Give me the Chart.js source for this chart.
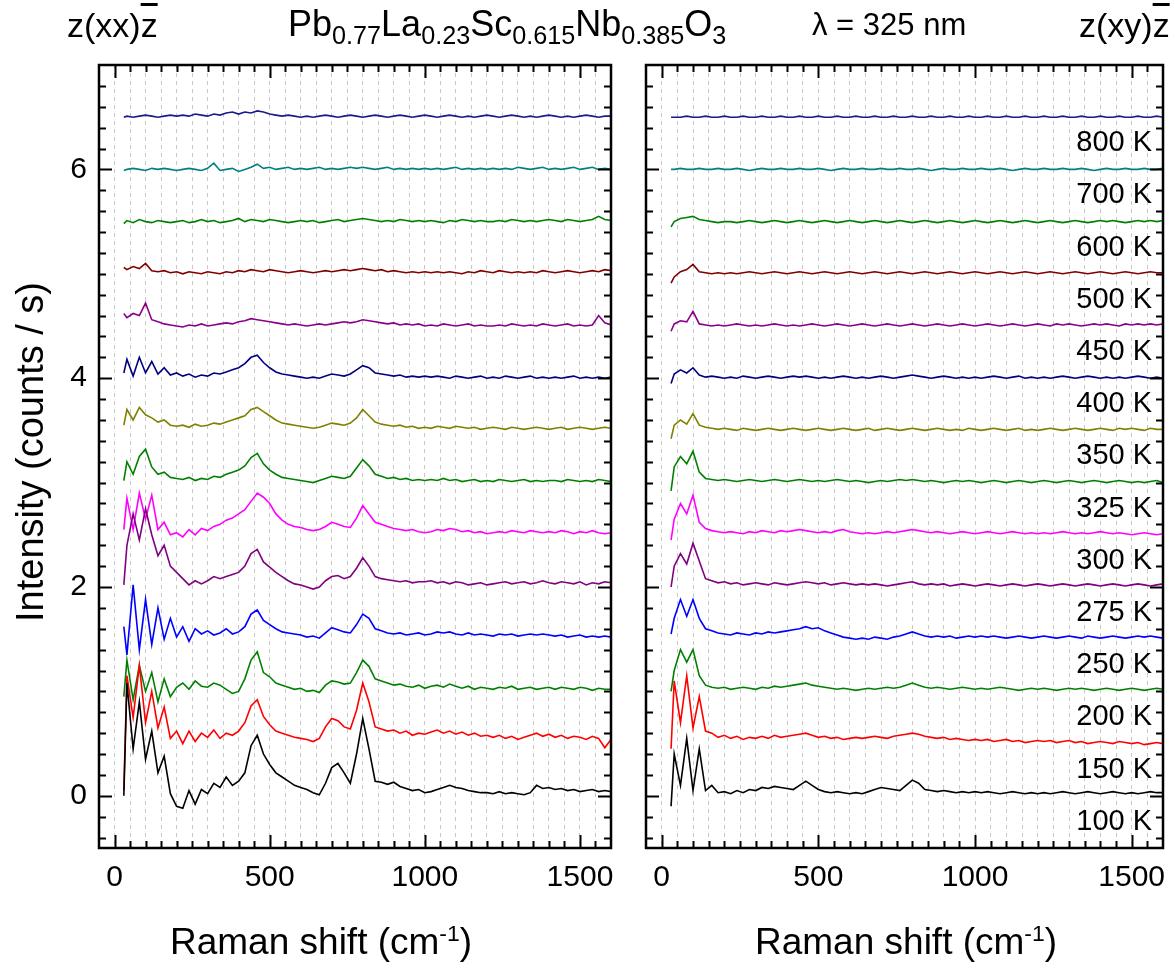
<!DOCTYPE html>
<html>
<head>
<meta charset="utf-8">
<script src="https://cdn.jsdelivr.net/npm/chart.js@4.4.0/dist/chart.umd.min.js"></script>
<style>
  body { margin: 0; width: 1175px; height: 971px; background: #fff; position: relative; overflow: hidden;
         font-family: "Liberation Sans", Arial, sans-serif; color: #000; }
  .txt { position: absolute; white-space: nowrap; line-height: 1; }
  .txt sub { font-size: 70%; vertical-align: -0.3em; }
  .txt sup { font-size: 62%; vertical-align: 0.55em; }
  .bar { text-decoration: overline; }
  #leftWrap { position: absolute; left: 0; top: 0; }
  #rightWrap { position: absolute; left: 623px; top: 0; }
</style>
</head>
<body>
<div id="leftWrap"><canvas id="xx" width="623" height="971"></canvas></div>
<div id="rightWrap"><canvas id="xy" width="552" height="971"></canvas></div>

<div class="txt" style="left:67px; top:8px; font-size:34px">z(xx)<span class="bar">z</span></div>
<div class="txt" style="left:288px; top:6px; font-size:36px">Pb<sub>0.77</sub>La<sub>0.23</sub>Sc<sub>0.615</sub>Nb<sub>0.385</sub>O<sub>3</sub></div>
<div class="txt" style="left:812px; top:9px; font-size:31px">λ = 325 nm</div>
<div class="txt" style="left:1079px; top:8px; font-size:34px">z(xy)<span class="bar">z</span></div>
<div class="txt" style="left:170px; top:922px; font-size:37px">Raman shift (cm<sup>-1</sup>)</div>
<div class="txt" style="left:755px; top:922px; font-size:37px">Raman shift (cm<sup>-1</sup>)</div>
<div class="txt" style="left:30px; top:452px; font-size:38px; transform: translate(-50%,-50%) rotate(-90deg); transform-origin: center;">Intensity (counts / s)</div>

<script>
// Raman shift axis (cm-1)
ramanShift = [30,40,60,80,100,120,140,160,180,200,
  220,240,260,280,300,320,340,360,380,400,
  420,440,460,480,500,520,540,560,580,600,
  620,640,660,680,700,720,740,760,780,800,
  820,840,860,880,900,920,940,960,980,1000,
  1020,1040,1060,1080,1100,1120,1140,1160,1180,1200,
  1220,1240,1260,1280,1300,1320,1340,1360,1380,1400,
  1420,1440,1460,1480,1500,1520,1540,1560,1580,1600]

temps = ['100 K','150 K','200 K','250 K','275 K','300 K','325 K','350 K','400 K','450 K','500 K','600 K','700 K','800 K']
baseLevels = [0,0.5,1,1.5,2,2.5,3,3.5,4,4.5,5,5.5,6,6.5]
lineColors = ['#000000','#ff0000','#008000','#0000ff','#800080','#ff00ff','#008000','#808000','#000080','#8b008b','#800000','#008000','#008080','#1a1a8c']

xTickLabels = [0, 500, 1000, 1500]
yTickLabels = [0, 2, 4, 6]

// z(xx)z spectra, stacked as plotted
xx100 = [0.00,1.08,0.45,0.90,0.35,0.62,0.22,0.38,0.02,-0.10,
  -0.12,0.05,-0.08,0.06,0.02,0.12,0.08,0.18,0.10,0.14,
  0.22,0.48,0.58,0.40,0.30,0.22,0.18,0.14,0.10,0.08,
  0.06,0.03,0.01,0.12,0.27,0.31,0.22,0.12,0.40,0.74,
  0.45,0.14,0.13,0.11,0.13,0.09,0.07,0.05,0.06,0.03,
  0.04,0.06,0.08,0.10,0.08,0.07,0.05,0.04,0.03,0.03,
  0.02,0.04,0.02,0.03,0.02,0.01,0.03,0.10,0.07,0.08,
  0.06,0.07,0.05,0.06,0.04,0.05,0.06,0.04,0.05,0.04]
xx150 = [0.05,1.15,0.75,1.25,0.70,1.00,0.65,0.85,0.55,0.62,
  0.50,0.62,0.52,0.60,0.56,0.63,0.55,0.60,0.58,0.62,
  0.70,0.86,0.92,0.76,0.68,0.62,0.60,0.58,0.56,0.55,
  0.54,0.52,0.55,0.66,0.74,0.72,0.66,0.64,0.82,1.08,
  0.90,0.66,0.64,0.62,0.63,0.60,0.62,0.58,0.60,0.59,
  0.61,0.63,0.60,0.62,0.59,0.61,0.58,0.60,0.57,0.58,
  0.56,0.58,0.55,0.57,0.54,0.56,0.58,0.60,0.57,0.59,
  0.56,0.58,0.55,0.57,0.56,0.54,0.57,0.55,0.46,0.54]
xx200 = [0.95,1.30,0.92,1.25,1.00,1.18,0.90,1.12,0.95,1.04,
  1.08,1.02,1.10,1.05,1.04,1.08,1.06,1.02,0.98,1.00,
  1.12,1.30,1.38,1.18,1.14,1.08,1.06,1.04,1.02,1.03,
  1.00,1.01,0.99,1.06,1.10,1.09,1.07,1.08,1.18,1.30,
  1.24,1.12,1.10,1.08,1.06,1.07,1.05,1.04,1.06,1.03,
  1.05,1.06,1.04,1.07,1.05,1.03,1.05,1.02,1.04,1.03,
  1.02,1.04,1.03,1.05,1.02,1.03,1.04,1.02,1.03,1.04,
  1.02,1.04,1.03,1.02,1.04,1.03,1.01,1.03,1.02,1.02]
xx250 = [1.62,1.35,2.02,1.40,1.88,1.45,1.80,1.50,1.70,1.52,
  1.62,1.48,1.60,1.55,1.58,1.54,1.56,1.60,1.55,1.57,
  1.62,1.74,1.78,1.68,1.64,1.60,1.57,1.56,1.55,1.54,
  1.52,1.53,1.51,1.56,1.61,1.59,1.57,1.56,1.64,1.74,
  1.70,1.60,1.58,1.56,1.55,1.56,1.54,1.55,1.56,1.54,
  1.55,1.57,1.56,1.57,1.55,1.54,1.56,1.54,1.55,1.54,
  1.53,1.55,1.54,1.55,1.53,1.54,1.55,1.54,1.55,1.54,
  1.53,1.54,1.52,1.53,1.54,1.52,1.53,1.52,1.53,1.52]
xx275 = [2.02,2.40,2.70,2.45,2.75,2.50,2.30,2.40,2.20,2.14,
  2.08,2.02,2.06,2.03,2.06,2.10,2.08,2.10,2.12,2.14,
  2.20,2.32,2.36,2.24,2.19,2.14,2.10,2.06,2.03,2.02,
  2.00,1.98,2.00,2.06,2.10,2.11,2.08,2.10,2.18,2.28,
  2.20,2.10,2.08,2.07,2.06,2.05,2.06,2.04,2.05,2.05,
  2.06,2.04,2.05,2.03,2.05,2.04,2.02,2.03,2.04,2.02,
  2.03,2.04,2.05,2.03,2.04,2.05,2.03,2.04,2.06,2.04,
  2.03,2.05,2.04,2.03,2.05,2.02,2.04,2.03,2.05,2.04]
xx300 = [2.55,2.85,2.55,2.90,2.65,2.88,2.55,2.62,2.50,2.52,
  2.48,2.55,2.50,2.56,2.54,2.58,2.60,2.64,2.66,2.70,
  2.74,2.82,2.90,2.86,2.80,2.70,2.64,2.60,2.58,2.57,
  2.55,2.54,2.55,2.58,2.62,2.60,2.58,2.57,2.66,2.78,
  2.70,2.62,2.60,2.58,2.56,2.55,2.54,2.55,2.53,2.52,
  2.53,2.55,2.54,2.56,2.55,2.53,2.54,2.52,2.53,2.51,
  2.52,2.53,2.52,2.54,2.53,2.52,2.54,2.53,2.52,2.53,
  2.52,2.54,2.53,2.51,2.53,2.52,2.54,2.52,2.51,2.52]
xx325 = [3.02,3.20,3.08,3.25,3.32,3.15,3.08,3.10,3.05,3.04,
  3.03,3.05,3.02,3.04,3.03,3.06,3.05,3.08,3.10,3.12,
  3.16,3.24,3.28,3.18,3.12,3.08,3.05,3.04,3.03,3.02,
  3.01,3.00,3.02,3.04,3.06,3.05,3.04,3.06,3.14,3.22,
  3.16,3.08,3.06,3.04,3.05,3.03,3.04,3.02,3.03,3.02,
  3.03,3.02,3.04,3.02,3.03,3.01,3.02,3.03,3.01,3.02,
  3.01,3.03,3.02,3.01,3.02,3.03,3.01,3.02,3.01,3.02,
  3.02,3.01,3.03,3.02,3.01,3.02,3.01,3.03,3.02,3.01]
xx350 = [3.55,3.70,3.60,3.72,3.65,3.62,3.58,3.60,3.55,3.54,
  3.55,3.53,3.56,3.54,3.55,3.57,3.56,3.58,3.60,3.62,
  3.64,3.70,3.72,3.68,3.64,3.60,3.57,3.56,3.55,3.54,
  3.53,3.52,3.53,3.55,3.57,3.56,3.55,3.57,3.62,3.70,
  3.64,3.58,3.56,3.55,3.54,3.55,3.53,3.54,3.52,3.53,
  3.52,3.54,3.53,3.52,3.54,3.53,3.52,3.53,3.51,3.52,
  3.53,3.52,3.51,3.53,3.52,3.51,3.52,3.53,3.52,3.51,
  3.52,3.53,3.51,3.52,3.53,3.52,3.51,3.52,3.53,3.52]
xx400 = [4.05,4.18,4.02,4.20,4.05,4.16,4.04,4.10,4.03,4.05,
  4.02,4.04,4.01,4.03,4.02,4.05,4.04,4.06,4.08,4.10,
  4.14,4.20,4.22,4.15,4.10,4.06,4.04,4.03,4.02,4.01,
  4.00,4.01,4.00,4.02,4.04,4.03,4.02,4.04,4.08,4.12,
  4.10,4.05,4.04,4.03,4.02,4.03,4.01,4.02,4.01,4.02,
  4.01,4.02,4.01,4.00,4.02,4.01,4.00,4.01,4.02,4.00,
  4.01,4.00,4.02,4.01,4.00,4.01,4.02,4.00,4.01,4.00,
  4.01,4.00,4.01,4.02,4.00,4.01,4.00,4.01,4.00,4.01]
xx450 = [4.62,4.58,4.62,4.60,4.72,4.56,4.54,4.52,4.51,4.50,
  4.49,4.51,4.50,4.52,4.50,4.51,4.52,4.53,4.52,4.54,
  4.55,4.57,4.56,4.55,4.54,4.53,4.52,4.51,4.52,4.51,
  4.50,4.51,4.52,4.51,4.52,4.53,4.54,4.53,4.54,4.56,
  4.55,4.54,4.53,4.52,4.53,4.51,4.52,4.51,4.52,4.50,
  4.51,4.50,4.52,4.51,4.50,4.51,4.52,4.50,4.51,4.50,
  4.50,4.51,4.50,4.52,4.51,4.50,4.51,4.50,4.52,4.51,
  4.50,4.51,4.52,4.50,4.51,4.50,4.51,4.60,4.53,4.51]
xx500 = [5.06,5.04,5.07,5.05,5.10,5.03,5.02,5.03,5.01,5.02,
  5.00,5.02,5.01,5.00,5.02,5.01,5.00,5.02,5.01,5.03,
  5.02,5.04,5.03,5.02,5.04,5.03,5.02,5.01,5.02,5.03,
  5.02,5.01,5.02,5.03,5.02,5.03,5.04,5.03,5.04,5.05,
  5.04,5.03,5.04,5.02,5.03,5.02,5.01,5.02,5.01,5.02,
  5.01,5.02,5.01,5.02,5.01,5.00,5.02,5.01,5.03,5.02,
  5.01,5.03,5.02,5.01,5.02,5.01,5.02,5.01,5.03,5.02,
  5.01,5.02,5.03,5.02,5.01,5.02,5.03,5.02,5.04,5.03]
xx600 = [5.48,5.51,5.49,5.52,5.50,5.49,5.51,5.50,5.49,5.50,
  5.51,5.49,5.50,5.52,5.50,5.51,5.49,5.50,5.51,5.53,
  5.50,5.52,5.51,5.50,5.52,5.51,5.50,5.49,5.50,5.51,
  5.50,5.51,5.49,5.50,5.51,5.52,5.50,5.51,5.52,5.53,
  5.52,5.51,5.50,5.51,5.50,5.52,5.51,5.50,5.51,5.50,
  5.51,5.50,5.49,5.51,5.50,5.52,5.51,5.50,5.51,5.50,
  5.50,5.51,5.50,5.52,5.51,5.50,5.51,5.50,5.51,5.52,
  5.51,5.50,5.52,5.51,5.50,5.51,5.52,5.55,5.52,5.51]
xx700 = [5.99,6.00,6.01,6.00,5.99,6.01,6.00,6.01,6.00,5.99,
  6.00,6.01,6.00,5.99,6.01,6.06,5.99,6.00,6.01,5.98,
  6.00,6.02,6.05,6.01,6.02,6.00,6.01,6.02,6.00,6.01,
  6.00,6.01,6.02,6.00,6.01,6.00,6.01,6.02,6.01,6.02,
  6.01,6.00,6.01,6.02,6.00,6.01,6.00,6.01,6.00,6.01,
  6.00,6.01,6.00,6.01,6.02,6.00,6.01,6.00,6.01,6.00,
  6.01,6.00,6.01,6.00,6.02,6.01,6.00,6.01,6.02,6.00,
  6.01,6.00,6.01,6.02,6.00,6.01,6.02,6.00,6.01,6.00]
xx800 = [6.50,6.51,6.50,6.51,6.52,6.51,6.50,6.51,6.52,6.51,
  6.52,6.51,6.53,6.52,6.51,6.53,6.52,6.54,6.55,6.53,
  6.55,6.54,6.56,6.55,6.53,6.52,6.51,6.52,6.51,6.50,
  6.51,6.50,6.51,6.52,6.51,6.50,6.51,6.52,6.51,6.50,
  6.51,6.52,6.51,6.50,6.51,6.52,6.51,6.50,6.51,6.52,
  6.51,6.50,6.51,6.52,6.51,6.50,6.51,6.50,6.51,6.52,
  6.51,6.50,6.51,6.52,6.51,6.50,6.51,6.50,6.51,6.52,
  6.51,6.50,6.51,6.50,6.51,6.52,6.51,6.50,6.51,6.51]

// z(xy)z spectra
xy100 = [-0.10,0.40,0.10,0.55,0.05,0.45,0.05,0.10,0.03,0.04,
  0.02,0.05,0.03,0.06,0.05,0.08,0.07,0.09,0.08,0.07,
  0.06,0.10,0.14,0.10,0.06,0.04,0.03,0.04,0.03,0.02,
  0.03,0.02,0.04,0.06,0.08,0.07,0.06,0.05,0.10,0.15,
  0.12,0.06,0.05,0.04,0.05,0.04,0.03,0.04,0.03,0.04,
  0.03,0.04,0.03,0.02,0.03,0.04,0.03,0.02,0.03,0.02,
  0.03,0.02,0.03,0.04,0.03,0.02,0.03,0.04,0.03,0.02,
  0.03,0.04,0.03,0.02,0.03,0.02,0.03,0.04,0.03,0.03]
xy150 = [0.45,1.10,0.70,1.15,0.65,0.95,0.62,0.60,0.56,0.58,
  0.55,0.57,0.54,0.56,0.55,0.57,0.55,0.58,0.56,0.57,
  0.58,0.59,0.60,0.58,0.56,0.57,0.55,0.56,0.54,0.55,
  0.56,0.55,0.56,0.57,0.56,0.55,0.57,0.58,0.59,0.60,
  0.59,0.57,0.56,0.55,0.56,0.54,0.55,0.54,0.53,0.54,
  0.53,0.54,0.52,0.53,0.54,0.52,0.53,0.51,0.52,0.53,
  0.52,0.53,0.51,0.52,0.53,0.51,0.52,0.50,0.51,0.52,
  0.51,0.50,0.52,0.51,0.50,0.51,0.49,0.50,0.51,0.50]
xy200 = [1.00,1.20,1.40,1.28,1.40,1.15,1.06,1.04,1.03,1.04,
  1.02,1.03,1.04,1.03,1.02,1.04,1.03,1.05,1.04,1.05,
  1.06,1.07,1.08,1.06,1.05,1.04,1.03,1.02,1.03,1.02,
  1.01,1.02,1.03,1.02,1.03,1.04,1.03,1.04,1.06,1.08,
  1.06,1.04,1.03,1.04,1.03,1.02,1.03,1.04,1.03,1.02,
  1.03,1.02,1.03,1.04,1.03,1.02,1.01,1.02,1.03,1.02,
  1.03,1.02,1.01,1.02,1.03,1.02,1.03,1.02,1.01,1.02,
  1.03,1.02,1.01,1.02,1.03,1.02,1.01,1.02,1.03,1.02]
xy250 = [1.55,1.70,1.88,1.72,1.88,1.70,1.60,1.58,1.56,1.55,
  1.54,1.56,1.55,1.54,1.56,1.55,1.57,1.56,1.57,1.58,
  1.59,1.60,1.62,1.60,1.61,1.58,1.56,1.54,1.52,1.51,
  1.50,1.51,1.50,1.52,1.51,1.50,1.52,1.53,1.55,1.57,
  1.55,1.53,1.52,1.53,1.52,1.53,1.51,1.52,1.53,1.52,
  1.53,1.52,1.53,1.52,1.51,1.52,1.53,1.52,1.51,1.52,
  1.53,1.52,1.51,1.52,1.53,1.52,1.51,1.53,1.52,1.51,
  1.52,1.53,1.52,1.51,1.52,1.53,1.52,1.53,1.52,1.51]
xy275 = [2.00,2.20,2.32,2.22,2.42,2.25,2.08,2.06,2.04,2.05,
  2.03,2.04,2.02,2.03,2.04,2.03,2.02,2.04,2.03,2.02,
  2.03,2.04,2.05,2.04,2.03,2.04,2.02,2.03,2.04,2.03,
  2.02,2.03,2.02,2.03,2.02,2.01,2.02,2.03,2.04,2.05,
  2.03,2.02,2.03,2.02,2.03,2.01,2.02,2.03,2.02,2.01,
  2.02,2.03,2.02,2.01,2.02,2.03,2.02,2.01,2.02,2.03,
  2.02,2.01,2.02,2.03,2.02,2.01,2.02,2.03,2.02,2.01,
  2.02,2.03,2.02,2.01,2.02,2.03,2.02,2.01,2.02,2.03]
xy300 = [2.45,2.65,2.80,2.70,2.88,2.62,2.56,2.54,2.53,2.52,
  2.53,2.52,2.51,2.53,2.52,2.54,2.53,2.52,2.54,2.53,
  2.54,2.55,2.54,2.53,2.52,2.53,2.52,2.54,2.55,2.53,
  2.52,2.51,2.52,2.51,2.52,2.53,2.52,2.53,2.54,2.55,
  2.54,2.53,2.52,2.53,2.52,2.51,2.52,2.53,2.52,2.51,
  2.52,2.53,2.52,2.51,2.52,2.53,2.52,2.51,2.52,2.51,
  2.52,2.51,2.52,2.53,2.52,2.51,2.52,2.51,2.52,2.53,
  2.52,2.51,2.52,2.51,2.50,2.51,2.52,2.51,2.50,2.51]
xy325 = [2.92,3.15,3.25,3.18,3.30,3.10,3.04,3.03,3.02,3.03,
  3.02,3.01,3.02,3.03,3.02,3.01,3.02,3.03,3.02,3.01,
  3.02,3.03,3.02,3.01,3.02,3.01,3.02,3.03,3.02,3.01,
  3.02,3.01,3.00,3.01,3.02,3.01,3.02,3.03,3.02,3.03,
  3.02,3.01,3.02,3.01,3.00,3.01,3.02,3.01,3.02,3.01,
  3.00,3.01,3.02,3.01,3.00,3.01,3.02,3.01,3.00,3.01,
  3.02,3.01,3.00,3.01,3.02,3.01,3.00,3.01,3.02,3.01,
  3.00,3.01,3.02,3.01,3.00,3.01,3.00,3.01,3.02,3.00]
xy350 = [3.42,3.55,3.60,3.56,3.66,3.55,3.53,3.52,3.51,3.52,
  3.51,3.50,3.52,3.51,3.50,3.51,3.52,3.51,3.50,3.51,
  3.52,3.51,3.50,3.51,3.52,3.51,3.50,3.51,3.52,3.51,
  3.50,3.51,3.52,3.50,3.51,3.52,3.51,3.50,3.51,3.52,
  3.51,3.50,3.51,3.52,3.51,3.50,3.51,3.50,3.52,3.51,
  3.50,3.51,3.52,3.51,3.50,3.51,3.52,3.50,3.51,3.50,
  3.51,3.52,3.51,3.50,3.51,3.52,3.51,3.50,3.51,3.52,
  3.51,3.50,3.52,3.51,3.52,3.51,3.50,3.52,3.51,3.51]
xy400 = [3.95,4.04,4.08,4.05,4.10,4.03,4.01,4.02,4.01,4.00,
  4.01,4.00,4.02,4.01,4.00,4.01,4.02,4.01,4.00,4.01,
  4.02,4.01,4.02,4.01,4.00,4.01,4.00,4.01,4.02,4.01,
  4.00,4.01,4.00,4.01,4.02,4.01,4.00,4.01,4.02,4.03,
  4.02,4.01,4.00,4.01,4.02,4.01,4.00,4.01,4.00,4.01,
  4.00,4.01,4.02,4.01,4.00,4.01,4.02,4.00,4.01,4.00,
  4.01,4.00,4.01,4.02,4.01,4.00,4.01,4.02,4.01,4.00,
  4.01,4.00,4.01,4.00,4.01,4.02,4.01,4.00,4.01,4.00]
xy450 = [4.45,4.52,4.55,4.54,4.64,4.52,4.51,4.50,4.51,4.50,
  4.51,4.52,4.51,4.50,4.51,4.50,4.51,4.52,4.51,4.50,
  4.51,4.50,4.51,4.52,4.51,4.50,4.51,4.52,4.51,4.50,
  4.51,4.52,4.51,4.50,4.51,4.52,4.51,4.50,4.51,4.52,
  4.51,4.50,4.51,4.52,4.51,4.50,4.51,4.52,4.51,4.50,
  4.51,4.52,4.51,4.50,4.51,4.52,4.51,4.50,4.51,4.52,
  4.51,4.50,4.52,4.51,4.52,4.51,4.50,4.51,4.52,4.51,
  4.52,4.51,4.50,4.52,4.51,4.52,4.51,4.52,4.51,4.52]
xy500 = [4.91,4.97,5.02,5.04,5.09,5.02,5.01,5.00,5.01,5.00,
  5.01,5.00,5.01,5.02,5.01,5.00,5.01,5.02,5.01,5.00,
  5.01,5.02,5.01,5.00,5.01,5.02,5.01,5.00,5.01,5.02,
  5.01,5.00,5.01,5.02,5.01,5.00,5.01,5.02,5.01,5.00,
  5.01,5.02,5.01,5.00,5.01,5.02,5.01,5.00,5.01,5.02,
  5.01,5.00,5.01,5.02,5.01,5.00,5.01,5.02,5.01,5.00,
  5.01,5.02,5.01,5.00,5.01,5.02,5.01,5.00,5.01,5.02,
  5.01,5.00,5.01,5.02,5.01,5.00,5.01,5.02,5.01,5.01]
xy600 = [5.45,5.50,5.53,5.54,5.55,5.52,5.51,5.50,5.49,5.50,
  5.50,5.49,5.50,5.51,5.50,5.49,5.50,5.51,5.50,5.49,
  5.50,5.51,5.50,5.49,5.50,5.51,5.50,5.49,5.50,5.51,
  5.50,5.49,5.50,5.51,5.50,5.49,5.50,5.51,5.50,5.49,
  5.50,5.51,5.50,5.49,5.50,5.51,5.50,5.49,5.50,5.51,
  5.50,5.49,5.50,5.51,5.50,5.49,5.50,5.51,5.50,5.49,
  5.50,5.51,5.50,5.49,5.50,5.51,5.50,5.49,5.50,5.51,
  5.50,5.51,5.50,5.49,5.50,5.51,5.50,5.51,5.50,5.51]
xy700 = [6.00,6.00,6.01,6.00,6.00,6.01,6.00,6.00,6.01,6.00,
  6.00,6.01,6.00,5.99,6.00,6.01,6.00,6.00,6.01,6.00,
  6.00,6.01,6.00,6.00,6.01,6.00,5.99,6.00,6.01,6.00,
  6.00,6.01,6.00,6.00,6.01,6.00,6.00,6.01,6.00,6.00,
  6.01,6.00,5.99,6.00,6.01,6.00,6.00,6.01,6.00,6.00,
  6.01,6.00,6.00,6.01,6.00,5.99,6.00,6.01,6.00,6.00,
  6.01,6.00,6.00,6.01,6.00,6.00,6.01,6.00,5.99,6.00,
  6.01,6.00,6.00,6.01,6.00,6.00,6.01,6.00,6.00,6.01]
xy800 = [6.50,6.50,6.50,6.51,6.50,6.50,6.51,6.50,6.50,6.51,
  6.50,6.50,6.51,6.50,6.50,6.51,6.50,6.50,6.51,6.50,
  6.50,6.51,6.50,6.50,6.51,6.50,6.50,6.51,6.50,6.50,
  6.51,6.50,6.50,6.51,6.50,6.50,6.51,6.50,6.50,6.51,
  6.50,6.50,6.51,6.50,6.50,6.51,6.50,6.50,6.51,6.50,
  6.50,6.51,6.50,6.50,6.51,6.50,6.50,6.51,6.50,6.50,
  6.51,6.50,6.50,6.51,6.50,6.50,6.51,6.50,6.50,6.51,
  6.50,6.50,6.51,6.50,6.50,6.51,6.50,6.50,6.51,6.50]

xxSpectra = [xx100, xx150, xx200, xx250, xx275, xx300, xx325, xx350, xx400, xx450, xx500, xx600, xx700, xx800]
xySpectra = [xy100, xy150, xy200, xy250, xy275, xy300, xy325, xy350, xy400, xy450, xy500, xy600, xy700, xy800]

FONT = '"Liberation Sans", Arial, sans-serif'

// frame + inward ticks on all four sides, Origin style
const frameTicks = {
  id: 'frameTicks',
  afterDatasetsDraw(chart) {
    const {ctx, chartArea: a, scales: {x, y}} = chart
    ctx.save()
    ctx.strokeStyle = '#000'
    ctx.lineWidth = 2
    ctx.beginPath()
    for (let v = 0; v < 1600; v += 50) {
      const px = Math.round(x.getPixelForValue(v)) + 0.5
      const len = xTickLabels.includes(v) ? 13 : 7
      ctx.moveTo(px, a.bottom); ctx.lineTo(px, a.bottom - len)
      ctx.moveTo(px, a.top); ctx.lineTo(px, a.top + len)
    }
    for (let k = -2; k <= 34; k++) {
      const py = Math.round(y.getPixelForValue(k * 0.2)) + 0.5
      if (py <= a.top + 2 || py >= a.bottom - 2) continue
      const len = (k % 10 === 0) ? 13 : 7
      ctx.moveTo(a.left, py); ctx.lineTo(a.left + len, py)
      ctx.moveTo(a.right, py); ctx.lineTo(a.right - len, py)
    }
    ctx.stroke()
    ctx.lineWidth = 2.5
    ctx.strokeRect(a.left, a.top, a.right - a.left, a.bottom - a.top)
    ctx.restore()
  }
}

// temperature labels on the right panel
const tempLabels = {
  id: 'tempLabels',
  afterDraw(chart) {
    if (!chart.options.showTemps) return
    const {ctx, scales: {x, y}} = chart
    ctx.save()
    ctx.font = '29px ' + FONT
    ctx.fillStyle = '#000'
    ctx.textAlign = 'right'
    ctx.textBaseline = 'middle'
    temps.forEach((t, i) => {
      ctx.fillText(t, x.getPixelForValue(1565), y.getPixelForValue(baseLevels[i]) + 26)
    })
    ctx.restore()
  }
}

function makePanel(id, spectra, yAxisWidth, rightPad, showLabels) {
  return new Chart(document.getElementById(id), {
    type: 'line',
    data: {
      datasets: spectra.map((s, i) => ({
        label: temps[i],
        data: ramanShift.map((r, j) => ({x: r, y: s[j]})),
        borderColor: lineColors[i],
        borderWidth: 1.6,
        pointRadius: 0,
        tension: 0,
        fill: false
      }))
    },
    options: {
      responsive: false,
      animation: false,
      devicePixelRatio: 1,
      showTemps: !showLabels,
      layout: { padding: { top: 65, right: rightPad, left: 0, bottom: 0 } },
      plugins: { legend: { display: false }, tooltip: { enabled: false } },
      scales: {
        x: {
          type: 'linear',
          min: -50,
          max: 1600,
          afterFit: (s) => { s.height = 123 },
          grid: { color: '#c8c8c8', lineWidth: 1, drawTicks: false },
          border: { display: false, dash: [4, 4] },
          ticks: {
            stepSize: 50,
            autoSkip: false,
            maxRotation: 0,
            padding: 12,
            color: '#000',
            font: { family: FONT, size: 30 },
            callback: (v) => xTickLabels.includes(v) ? String(v) : ''
          }
        },
        y: {
          type: 'linear',
          min: -0.5,
          max: 7,
          afterFit: (s) => { s.width = yAxisWidth },
          afterBuildTicks: (s) => { s.ticks = yTickLabels.map(v => ({value: v})) },
          grid: { display: false, drawTicks: false },
          border: { display: false },
          ticks: {
            display: showLabels,
            padding: 12,
            color: '#000',
            font: { family: FONT, size: 30 },
            callback: (v) => String(v)
          }
        }
      }
    },
    plugins: [frameTicks, tempLabels]
  })
}

makePanel('xx', xxSpectra, 99, 3, true)
makePanel('xy', xySpectra, 23, 5, false)
</script>
</body>
</html>
